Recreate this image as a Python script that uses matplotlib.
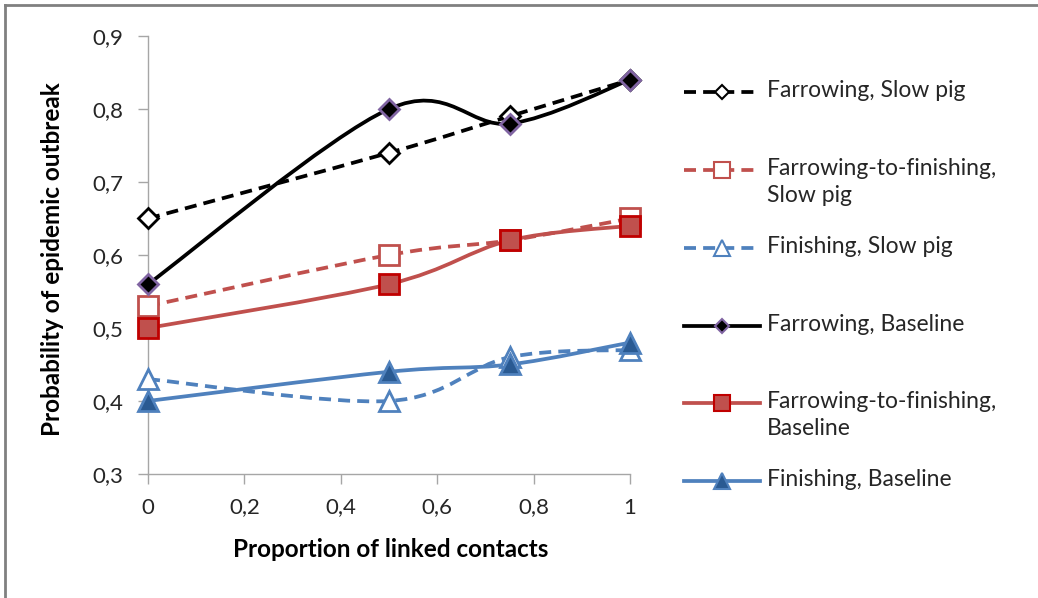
import matplotlib
matplotlib.use("Agg")
import matplotlib.pyplot as plt
from matplotlib.path import Path
from matplotlib.patches import PathPatch
from matplotlib.lines import Line2D
from matplotlib.ticker import FuncFormatter

# data
proportion = [0, 0.5, 0.75, 1]
farrowing_slow = [0.65, 0.74, 0.79, 0.84]
ftf_slow = [0.53, 0.60, 0.62, 0.65]
finishing_slow = [0.43, 0.40, 0.46, 0.47]
farrowing_base = [0.56, 0.80, 0.78, 0.84]
ftf_base = [0.50, 0.56, 0.62, 0.64]
finishing_base = [0.40, 0.44, 0.45, 0.48]

labels = ["Farrowing, Slow pig", "Farrowing-to-finishing,\nSlow pig", "Finishing, Slow pig",
          "Farrowing, Baseline", "Farrowing-to-finishing,\nBaseline", "Finishing, Baseline"]

RED = "#C0504D"
BLUE = "#4F81BD"
FONT = "Lato"

# style per series: color, dashed, marker, size, face, edge, legend marker size
styles = [
    dict(c="black", dash=True, m="D", ms=10, mfc="white", mec="black", lms=7),
    dict(c=RED, dash=True, m="s", ms=15, mfc="white", mec=RED, lms=11),
    dict(c=BLUE, dash=True, m="^", ms=15, mfc="white", mec=BLUE, lms=11),
    dict(c="black", dash=False, m="D", ms=10, mfc="black", mec="#8064A2", lms=7),
    dict(c=RED, dash=False, m="s", ms=15, mfc=RED, mec="#C00000", lms=11),
    dict(c=BLUE, dash=False, m="^", ms=15, mfc="#2A5A92", mec=BLUE, lms=11),
]
series = [farrowing_slow, ftf_slow, finishing_slow, farrowing_base, ftf_base, finishing_base]


def smooth_path(xs, ys, t=1/6):
    # excel-style smoothed line as cubic bezier segments
    pts = list(zip(xs, ys))
    n = len(pts)
    verts = [pts[0]]
    codes = [Path.MOVETO]
    for i in range(n - 1):
        p0 = pts[max(i - 1, 0)]
        p1 = pts[i]
        p2 = pts[i + 1]
        p3 = pts[min(i + 2, n - 1)]
        c1 = (p1[0] + (p2[0] - p0[0]) * t, p1[1] + (p2[1] - p0[1]) * t)
        c2 = (p2[0] - (p3[0] - p1[0]) * t, p2[1] - (p3[1] - p1[1]) * t)
        verts += [c1, c2, p2]
        codes += [Path.CURVE4] * 3
    return Path(verts, codes)


fig = plt.figure(figsize=(10.38, 5.98), dpi=100)
ax = fig.add_axes([0.1426, 0.2074, 0.4644, 0.7324])

LW = 2.7
DASH = (0, (3.2, 1.9))

for ys, st in zip(series, styles):
    patch = PathPatch(smooth_path(proportion, ys), fill=False, edgecolor=st["c"], linewidth=LW,
                      linestyle=DASH if st["dash"] else "-", capstyle="butt", zorder=2)
    ax.add_patch(patch)
for ys, st in zip(series, styles):
    ax.plot(proportion, ys, linestyle="none", marker=st["m"], markersize=st["ms"],
            markerfacecolor=st["mfc"], markeredgecolor=st["mec"], markeredgewidth=2, zorder=3)

ax.set_xlim(0, 1)
ax.set_ylim(0.3, 0.9)
ax.set_xticks([0, 0.2, 0.4, 0.6, 0.8, 1])
ax.set_yticks([0.3, 0.4, 0.5, 0.6, 0.7, 0.8, 0.9])
fmt = FuncFormatter(lambda v, p: ("%g" % round(v, 2)).replace(".", ","))
ax.xaxis.set_major_formatter(fmt)
ax.yaxis.set_major_formatter(fmt)
for sp in ["top", "right"]:
    ax.spines[sp].set_visible(False)
for sp in ["left", "bottom"]:
    ax.spines[sp].set_color("#A6A6A6")
    ax.spines[sp].set_linewidth(1)
ax.tick_params(axis="both", colors="#A6A6A6", length=7, width=1, labelcolor="#262626",
               labelsize=16)
ax.tick_params(axis="y", pad=11)
ax.tick_params(axis="x", pad=10)
for lab in ax.get_xticklabels() + ax.get_yticklabels():
    lab.set_fontfamily(FONT)
for art in ax.lines + ax.patches:
    art.set_clip_on(False)

ax.set_xlabel("Proportion of linked contacts", fontfamily=FONT, fontweight="bold",
              fontsize=17.5, va="center")
ax.set_ylabel("Probability of epidemic outbreak", fontfamily=FONT, fontweight="bold",
              fontsize=17.5, va="center")
ax.xaxis.set_label_coords(0.504, -0.1735)
ax.yaxis.set_label_coords(-0.199, 0.49)

# manual legend on the right, like the excel one
W, H = 1038.0, 598.0
ys_px = [92, 170, 248, 326, 403, 481]
for y, lab, st in zip(ys_px, labels, styles):
    yf = 1 - y / H
    fig.add_artist(Line2D([684 / W, 760 / W], [yf, yf], color=st["c"], linewidth=LW,
                          linestyle=DASH if st["dash"] else "-", transform=fig.transFigure))
    fig.add_artist(Line2D([722 / W], [yf], linestyle="none", marker=st["m"], markersize=st["lms"],
                          markerfacecolor=st["mfc"], markeredgecolor=st["mec"], markeredgewidth=1.5,
                          transform=fig.transFigure))
    fig.text(767 / W, yf + 12 / H, lab, fontfamily=FONT, fontsize=16.5, color="#262626",
             va="top", ha="left", linespacing=1.35)

# frame lines at top and left of the picture
fig.add_artist(Line2D([5 / W, 1], [1 - 5 / H, 1 - 5 / H], color="#808080", linewidth=2,
                      transform=fig.transFigure))
fig.add_artist(Line2D([5 / W, 5 / W], [0, 1 - 5 / H], color="#808080", linewidth=2,
                      transform=fig.transFigure))

fig.savefig("out.png", dpi=100)
